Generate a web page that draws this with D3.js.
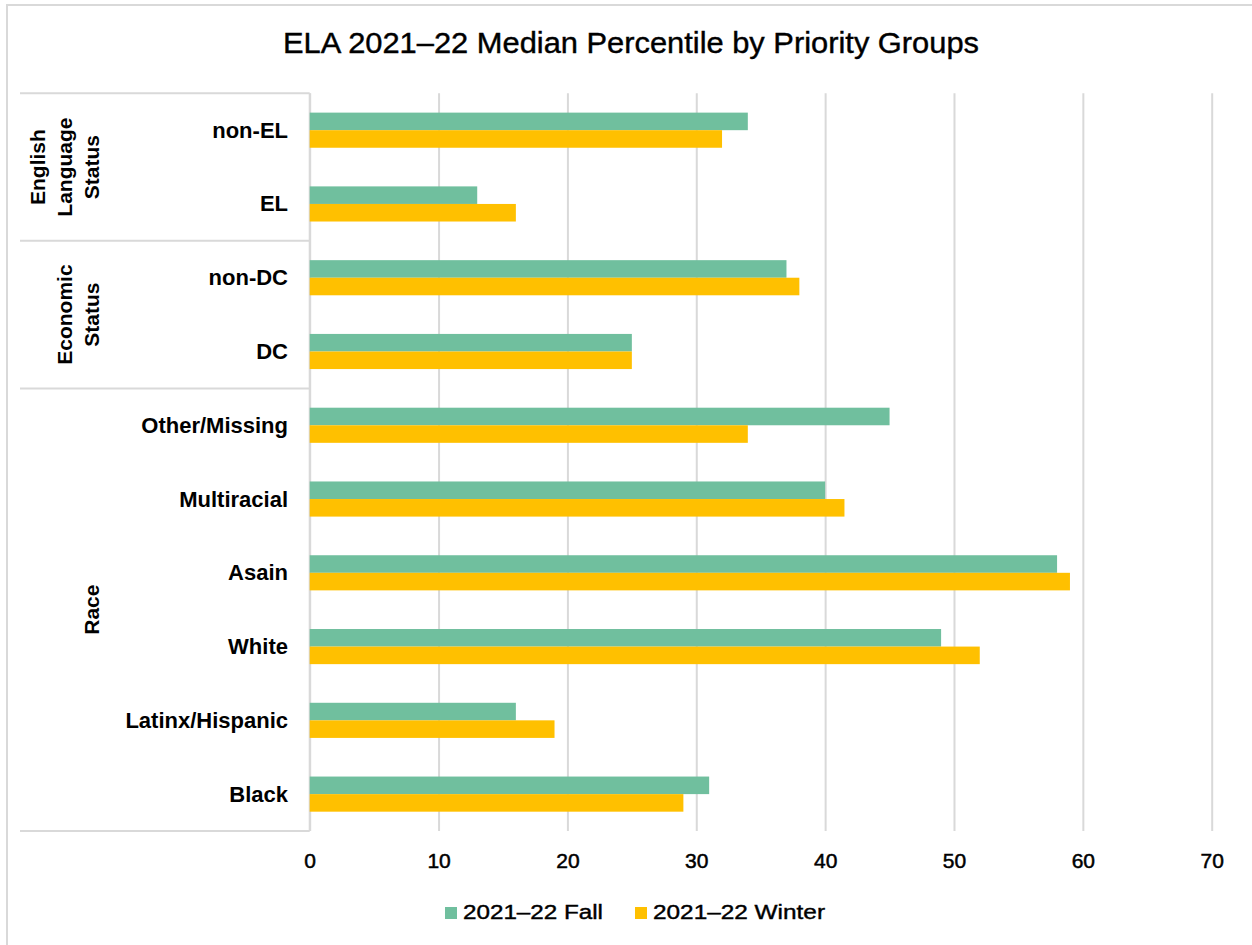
<!DOCTYPE html>
<meta charset="utf-8">
<head>
  <script src="https://cdn.jsdelivr.net/npm/d3@7"></script>
  <style>
    body { margin: 0; background: #fff; }
    text { font-family: "Liberation Sans", Arial, sans-serif; fill: #000; }
  </style>
</head>
<body>
<script type="text/javascript">

// data
var categories = ["non-EL", "EL", "non-DC", "DC", "Other/Missing", "Multiracial", "Asain", "White", "Latinx/Hispanic", "Black"];
var fall = [34, 13, 37, 25, 45, 40, 58, 49, 16, 31];
var winter = [32, 16, 38, 25, 34, 41.5, 59, 52, 19, 29];
var groupLines = [["English", "Language", "Status"], ["Economic", "Status"], ["Race"]];
var groupSizes = [2, 2, 6];
var xTicks = [0, 10, 20, 30, 40, 50, 60, 70];
var seriesNames = ["2021\u201322 Fall", "2021\u201322 Winter"];

var w = 1252, h = 945;
var colors = ["#70bf9e", "#ffc000"];
var gridColor = "#d9d9d9";

// plot edges (don't call one "top": window.top is read-only)
var pLeft = 309.7, pRight = 1211.7, pTop = 93.3, pBottom = 831;

var svg = d3.select("body").append("svg")
    .attr("width", w)
    .attr("height", h);

// outer chart border (right/bottom edges fall outside the picture)
svg.append("rect")
    .attr("x", 7).attr("y", 5)
    .attr("width", 1300).attr("height", 1000)
    .attr("fill", "none")
    .attr("stroke", gridColor)
    .attr("stroke-width", 2);

svg.append("text")
    .attr("x", 631).attr("y", 53)
    .attr("text-anchor", "middle")
    .attr("font-size", 29)
    .attr("textLength", 696)
    .attr("lengthAdjust", "spacingAndGlyphs")
    .style("stroke", "#000").style("stroke-width", 0.4)
    .text("ELA 2021\u201322 Median Percentile by Priority Groups");

var x = d3.scaleLinear().domain([0, 70]).range([pLeft, pRight]);
var y = d3.scaleBand().domain(categories).range([pTop, pBottom]).padding(0);
var sub = d3.scaleBand().domain([0, 1]).range([0, y.bandwidth()]).paddingInner(0).paddingOuter(1.1);

// gridlines
svg.append("g")
    .attr("transform", "translate(0," + pBottom + ")")
    .call(d3.axisBottom(x).tickValues(xTicks).tickSize(-(pBottom - pTop)).tickFormat(""))
    .call(function(g) {
      g.select(".domain").remove();
      g.selectAll("line").attr("stroke", gridColor).attr("stroke-width", 2);
    });

// tick labels
svg.append("g")
    .attr("transform", "translate(0,868)")
    .call(d3.axisBottom(x).tickValues(xTicks).tickSize(0).tickPadding(0))
    .call(function(g) {
      g.select(".domain").remove();
      g.selectAll("text")
        .attr("dy", 0)
        .attr("font-size", 21)
        .attr("font-family", "\"DejaVu Sans\", sans-serif")
        .attr("fill", "#000")
        .style("stroke", "#000").style("stroke-width", 0.5);
    });

// category axis structure
svg.append("line")
    .attr("x1", pLeft).attr("x2", pLeft)
    .attr("y1", pTop).attr("y2", pBottom)
    .attr("stroke", gridColor).attr("stroke-width", 2);

var bounds = [0];
groupSizes.forEach(function(s, i) { bounds.push(bounds[i] + s); });

function edgeY(k) {
  return k < categories.length ? y(categories[k]) : pBottom;
}

svg.selectAll("line.sep")
    .data(bounds)
    .enter().append("line")
    .attr("class", "sep")
    .attr("x1", 20).attr("x2", pLeft)
    .attr("y1", function(d) { return edgeY(d); })
    .attr("y2", function(d) { return edgeY(d); })
    .attr("stroke", gridColor).attr("stroke-width", 2);

// group labels, rotated
groupLines.forEach(function(lines, gi) {
  var yc = (edgeY(bounds[gi]) + edgeY(bounds[gi + 1])) / 2;
  var n = lines.length;
  lines.forEach(function(t, li) {
    var bx = 99 - (n - 1 - li) * 27;
    svg.append("text")
      .attr("transform", "translate(" + bx + "," + yc + ") rotate(-90)")
      .attr("text-anchor", "middle")
      .attr("font-size", 21)
      .attr("font-weight", "bold")
      .text(t);
  });
});

// category labels
svg.selectAll("text.cat")
    .data(categories)
    .enter().append("text")
    .attr("class", "cat")
    .attr("x", 288)
    .attr("y", function(d) { return y(d) + y.bandwidth() / 2 + 7.5; })
    .attr("text-anchor", "end")
    .attr("font-size", 22)
    .attr("font-weight", "bold")
    .text(function(d) { return d; });

// bars
[fall, winter].forEach(function(vals, si) {
  svg.selectAll("rect.s" + si)
    .data(vals)
    .enter().append("rect")
    .attr("class", "s" + si)
    .attr("x", x(0))
    .attr("y", function(d, i) { return y(categories[i]) + sub(si); })
    .attr("width", function(d) { return x(d) - x(0); })
    .attr("height", sub.bandwidth())
    .attr("fill", colors[si]);
});

// legend
var legendX = [445, 635];
var legendW = [140, 172];
seriesNames.forEach(function(name, i) {
  svg.append("rect")
    .attr("x", legendX[i]).attr("y", 907)
    .attr("width", 12).attr("height", 12)
    .attr("fill", colors[i]);
  svg.append("text")
    .attr("x", legendX[i] + 18).attr("y", 919)
    .attr("font-size", 20)
    .attr("textLength", legendW[i])
    .attr("lengthAdjust", "spacingAndGlyphs")
    .style("stroke", "#000").style("stroke-width", 0.4)
    .text(name);
});

</script>
</body>
